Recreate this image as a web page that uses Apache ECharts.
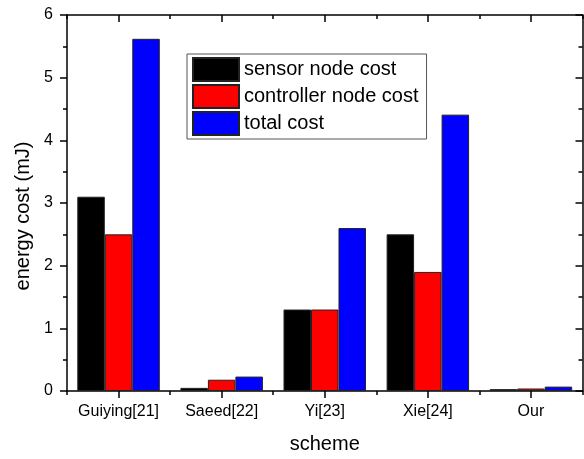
<!DOCTYPE html>
<html><head><meta charset="utf-8">
<script src="https://cdn.jsdelivr.net/npm/echarts@6/dist/echarts.min.js"></script>
<style>html,body{margin:0;padding:0;background:#fff;overflow:hidden}#c{width:584px;height:459px}</style>
</head><body><div id="c"></div>
<script>
const categories = ['Guiying[21]', 'Saeed[22]', 'Yi[23]', 'Xie[24]', 'Our'];
const sensorCost = [3.1, 0.05, 1.3, 2.5, 0.03];
const controllerCost = [2.5, 0.18, 1.3, 1.9, 0.04];
const totalCost = [5.62, 0.23, 2.6, 4.41, 0.07];
const yTicks = [0, 1, 2, 3, 4, 5, 6];

const FONT = '"Liberation Sans", Arial, sans-serif';
const chart = echarts.init(document.getElementById('c'), null, {renderer: 'canvas'});
const axisLine = {show: true, lineStyle: {color: '#000', width: 1.5}};
const catAxis = (pos, major, inside, showLabel, showLine) => ({
  type: 'category', data: categories, position: pos,
  boundaryGap: true,
  axisLine: showLine ? axisLine : {show: false},
  axisTick: {show: true, alignWithLabel: major, inside: inside, interval: 0, length: major ? 7 : 4, lineStyle: {color: '#000', width: 1.5}},
  axisLabel: {show: showLabel, interval: 0, color: '#000', fontSize: 16, fontFamily: FONT, margin: 13},
  splitLine: {show: false}
});
const valAxis = (pos, inside, showLabel) => ({
  type: 'value', position: pos, min: yTicks[0], max: yTicks[yTicks.length - 1], interval: 1,
  axisLine: axisLine,
  axisTick: {show: true, inside: inside, length: 7, lineStyle: {color: '#000', width: 1.5}},
  minorTick: {show: true, splitNumber: 2, length: 4, lineStyle: {color: '#000', width: 1.5}},
  axisLabel: {show: showLabel, color: '#000', fontSize: 16, fontFamily: FONT, margin: 14},
  splitLine: {show: false}
});
const xMain = catAxis('bottom', true, false, true, true);
xMain.name = 'scheme';
xMain.nameLocation = 'middle';
xMain.nameGap = 43;
xMain.nameTextStyle = {color: '#000', fontSize: 20, fontFamily: FONT};
const yMain = valAxis('left', false, true);
yMain.name = 'energy cost (mJ)';
yMain.nameLocation = 'middle';
yMain.nameGap = 30;
yMain.nameTextStyle = {color: '#000', fontSize: 20, fontFamily: FONT, padding: [0, 0, 0, -26]};

const barStyle = c => ({color: c, borderColor: '#222', borderWidth: 1});
chart.setOption({
  animation: false,
  backgroundColor: '#fff',
  grid: {left: 67, right: 1.5, top: 15, bottom: 64},
  legend: {
    orient: 'vertical', left: 187, top: 54,
    backgroundColor: '#fff', borderColor: '#555', borderWidth: 1,
    padding: [3, 8, 3, 5], itemGap: 2, itemWidth: 46, itemHeight: 23, icon: 'rect',
    textStyle: {color: '#000', fontSize: 20, fontFamily: FONT},
    data: ['sensor node cost', 'controller node cost', 'total cost']
  },
  xAxis: [
    xMain,
    catAxis('bottom', false, false, false, false),
    catAxis('top', true, true, false, true),
    catAxis('top', false, true, false, false)
  ],
  yAxis: [yMain, valAxis('right', true, false)],
  series: [
    {name: 'sensor node cost', type: 'bar', data: sensorCost, barGap: '0%', barCategoryGap: '20%', itemStyle: barStyle('#000000')},
    {name: 'controller node cost', type: 'bar', data: controllerCost, barGap: '0%', barCategoryGap: '20%', itemStyle: barStyle('#ff0000')},
    {name: 'total cost', type: 'bar', data: totalCost, barGap: '0%', barCategoryGap: '20%', itemStyle: barStyle('#0000ff')}
  ]
});
</script></body></html>
